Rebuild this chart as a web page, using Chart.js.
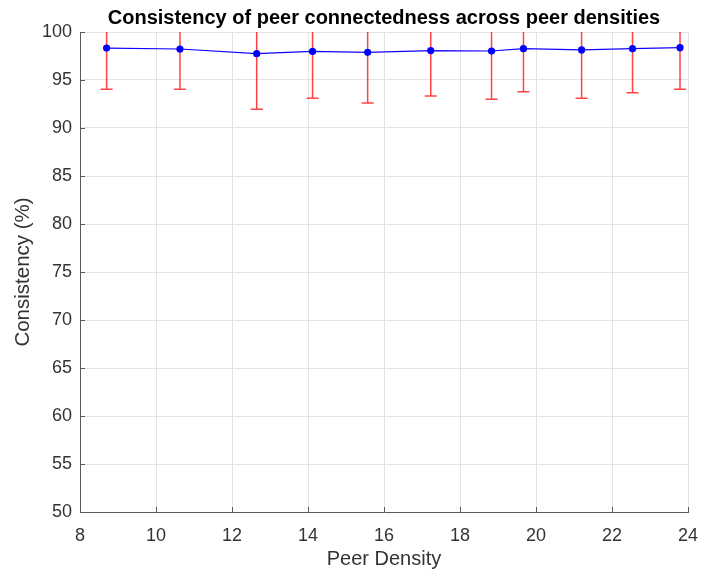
<!DOCTYPE html>
<html>
<head>
<meta charset="utf-8">
<script src="https://cdn.jsdelivr.net/npm/chart.js@4"></script>
<style>
    html, body { margin: 0; padding: 0; background: #fff; }
    canvas { display: block; }
</style>
</head>
<body>
<canvas id="consistencyChart" width="702" height="574"></canvas>
<script>
// --- Data ---
const densities   = [8.70, 10.63, 12.65, 14.12, 15.57, 17.23, 18.83, 19.67, 21.20, 22.54, 23.79];
const consistency = [98.33, 98.23, 97.74, 97.98, 97.88, 98.06, 98.02, 98.26, 98.13, 98.26, 98.37];
const errors      = [4.30, 4.20, 5.79, 4.89, 5.28, 4.73, 5.03, 4.48, 5.04, 4.58, 4.34];
const xTicks = [8, 10, 12, 14, 16, 18, 20, 22, 24];
const yTicks = [50, 55, 60, 65, 70, 75, 80, 85, 90, 95, 100];

const FONT = "'Liberation Sans', Arial, sans-serif";
const AXIS_COLOR = '#5a5a5a';
const TEXT_COLOR = '#333333';

const points = densities.map((d, i) => ({ x: d, y: consistency[i] }));

// --- Error bars, drawn under the line through the scales ---
const errorBarPlugin = {
    id: 'errorBars',
    beforeDatasetsDraw(chart) {
        const { ctx, chartArea, scales: { x, y } } = chart;
        ctx.save();
        ctx.beginPath();
        ctx.rect(chartArea.left, chartArea.top, chartArea.right - chartArea.left, chartArea.bottom - chartArea.top);
        ctx.clip();
        ctx.strokeStyle = 'rgba(255, 20, 20, 0.8)';
        ctx.lineWidth = 1.5;
        const cap = 6;
        densities.forEach((d, i) => {
            const px = x.getPixelForValue(d);
            const lo = y.getPixelForValue(consistency[i] - errors[i]);
            const hi = y.getPixelForValue(consistency[i] + errors[i]);
            ctx.beginPath();
            ctx.moveTo(px, lo); ctx.lineTo(px, hi);
            ctx.moveTo(px - cap, lo); ctx.lineTo(px + cap, lo);
            ctx.moveTo(px - cap, hi); ctx.lineTo(px + cap, hi);
            ctx.stroke();
        });
        ctx.restore();
    }
};

// --- Inward tick marks (MATLAB style) ---
const inwardTicks = {
    id: 'inwardTicks',
    afterDraw(chart) {
        const { ctx, chartArea, scales: { x, y } } = chart;
        const len = 5;
        ctx.save();
        ctx.strokeStyle = AXIS_COLOR;
        ctx.lineWidth = 1;
        ctx.beginPath();
        x.ticks.forEach(t => {
            const px = Math.round(x.getPixelForValue(t.value)) + 0.5;
            ctx.moveTo(px, chartArea.bottom);
            ctx.lineTo(px, chartArea.bottom - len);
        });
        y.ticks.forEach(t => {
            const py = Math.round(y.getPixelForValue(t.value)) + 0.5;
            ctx.moveTo(chartArea.left, py);
            ctx.lineTo(chartArea.left + len, py);
        });
        ctx.stroke();
        ctx.restore();
    }
};

new Chart(document.getElementById('consistencyChart'), {
    type: 'line',
    data: {
        datasets: [
            {
                data: points,
                borderColor: '#1400ff',
                borderWidth: 1.2,
                backgroundColor: '#0000ff',
                pointBackgroundColor: '#0000ff',
                pointBorderColor: '#0000ff',
                pointRadius: 3.6,
                pointBorderWidth: 0,
                tension: 0,
                fill: false
            }
        ]
    },
    options: {
        responsive: false,
        animation: false,
        devicePixelRatio: 1,
        layout: { padding: { left: 0, right: 14, top: 0, bottom: 0 } },
        plugins: {
            legend: { display: false },
            tooltip: { enabled: false },
            title: {
                display: true,
                fullSize: false,
                text: 'Consistency of peer connectedness across peer densities',
                color: '#000',
                font: { family: FONT, size: 20, weight: 'bold', lineHeight: 1.2 },
                padding: { top: 6, bottom: 2 }
            }
        },
        scales: {
            x: {
                type: 'linear',
                min: 8,
                max: 24,
                afterBuildTicks: s => { s.ticks = xTicks.map(v => ({ value: v })); },
                afterFit: s => { s.height = 62; s.paddingLeft = 0; s.paddingRight = 0; },
                grid: { color: '#e2e2e2', drawTicks: false },
                border: { color: AXIS_COLOR, width: 1 },
                ticks: { color: TEXT_COLOR, font: { family: FONT, size: 18 }, padding: 13, maxRotation: 0 },
                title: {
                    display: true,
                    text: 'Peer Density',
                    color: TEXT_COLOR,
                    font: { family: FONT, size: 20, lineHeight: 1.2 },
                    padding: { top: 0, bottom: 3 }
                }
            },
            y: {
                min: 50,
                max: 100,
                afterBuildTicks: s => { s.ticks = yTicks.map(v => ({ value: v })); },
                afterFit: s => { s.width = 80; s.paddingTop = 0; s.paddingBottom = 0; },
                grid: { color: '#e2e2e2', drawTicks: false },
                border: { color: AXIS_COLOR, width: 1 },
                ticks: { color: TEXT_COLOR, font: { family: FONT, size: 18 }, padding: 8 },
                title: {
                    display: true,
                    text: 'Consistency (%)',
                    color: TEXT_COLOR,
                    font: { family: FONT, size: 20.5, lineHeight: 1.2 },
                    padding: { top: 11, bottom: 0 }
                }
            }
        }
    },
    plugins: [errorBarPlugin, inwardTicks]
});
</script>
</body>
</html>
